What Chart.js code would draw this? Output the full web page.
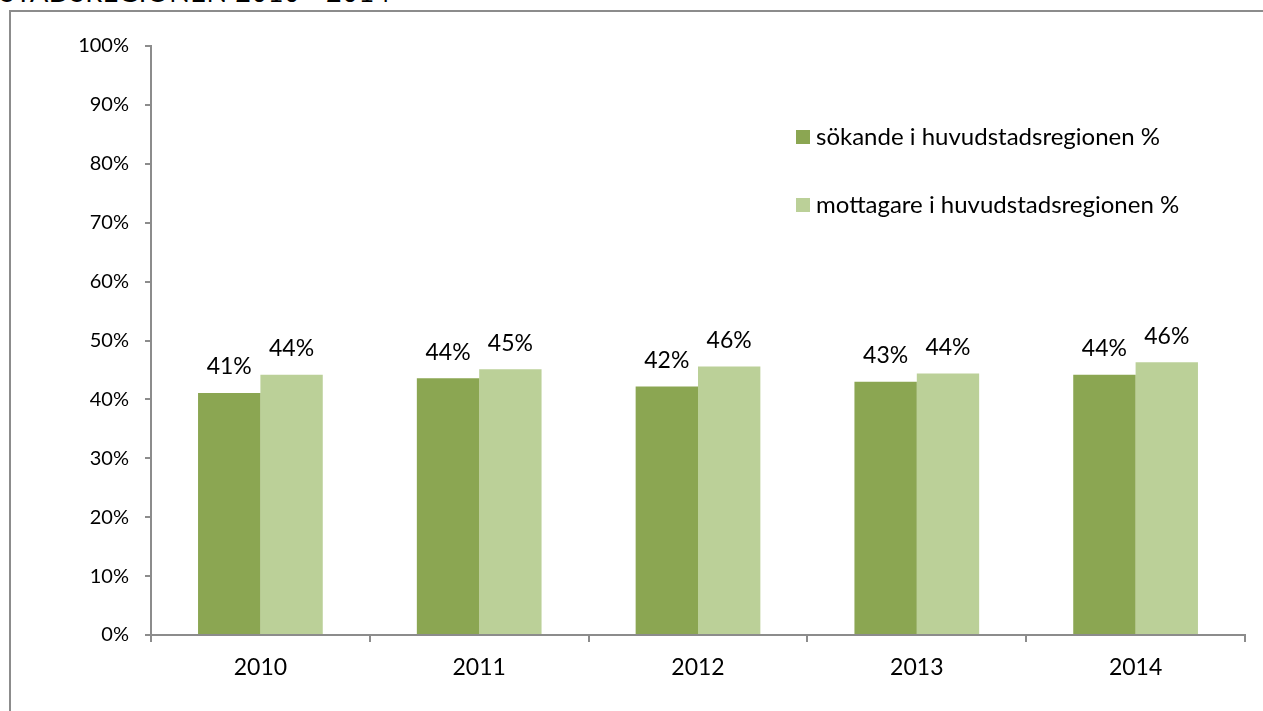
<!DOCTYPE html>
<html>
<head>
<meta charset="utf-8">
<script src="https://cdn.jsdelivr.net/npm/chart.js@4.4.1/dist/chart.umd.min.js"></script>
<style>
  html, body { margin: 0; padding: 0; background: #fff; overflow: hidden; }
  #wrap { position: relative; width: 1263px; height: 711px; overflow: hidden; }
  #frame {
    position: absolute; left: 9px; top: 10px; width: 1400px; height: 800px;
    border-top: 2px solid #8c8c8c; border-left: 2px solid #8c8c8c;
  }
  #title {
    position: absolute; left: 0; top: -22px; white-space: nowrap; line-height: 27px;
    font-family: Lato, sans-serif; font-size: 27px; color: #000; letter-spacing: 0.6px;
  }
  #chart { position: absolute; left: 0; top: 0; }
</style>
</head>
<body>
<div id="wrap">
  <div id="title">STADSREGIONEN 2010 - 2014</div>
  <div id="frame"></div>
  <canvas id="chart" width="1263" height="711"></canvas>
</div>
<script>
/* ---- data ---- */
const YEARS = ['2010', '2011', '2012', '2013', '2014'];
const SOKANDE = [41.1, 43.6, 42.2, 43.0, 44.2];
const MOTTAGARE = [44.2, 45.1, 45.6, 44.4, 46.3];
const SERIES_NAMES = ['sökande i huvudstadsregionen %', 'mottagare i huvudstadsregionen %'];
const Y_TICKS = [0, 10, 20, 30, 40, 50, 60, 70, 80, 90, 100];

const COLORS = {
  dark: '#8ba652',
  light: '#bbd098',
  axis: '#8c8c8c',
  text: '#000'
};
const FONT = 'Lato, sans-serif';

/* value labels above each bar */
const barLabels = {
  id: 'barLabels',
  afterDatasetsDraw(chart) {
    const { ctx } = chart;
    ctx.save();
    ctx.font = '23px ' + FONT;
    ctx.fillStyle = COLORS.text;
    ctx.textAlign = 'center';
    ctx.textBaseline = 'middle';
    chart.data.datasets.forEach((ds, i) => {
      chart.getDatasetMeta(i).data.forEach((bar, idx) => {
        ctx.fillText(Math.round(ds.data[idx]) + '%', bar.x, bar.y - 26);
      });
    });
    ctx.restore();
  }
};

/* legend drawn inside the plot, stacked vertically */
const insideLegend = {
  id: 'insideLegend',
  afterDraw(chart) {
    const { ctx } = chart;
    ctx.save();
    ctx.font = '24px ' + FONT;
    ctx.textBaseline = 'middle';
    chart.data.datasets.forEach((ds, i) => {
      const y = 137 + i * 68;
      ctx.fillStyle = ds.backgroundColor;
      ctx.fillRect(796, y - 7, 14, 14);
      ctx.fillStyle = COLORS.text;
      ctx.fillText(ds.label, 816, y);
    });
    ctx.restore();
  }
};

new Chart(document.getElementById('chart'), {
  type: 'bar',
  data: {
    labels: YEARS,
    datasets: [
      { label: SERIES_NAMES[0], data: SOKANDE, backgroundColor: COLORS.dark },
      { label: SERIES_NAMES[1], data: MOTTAGARE, backgroundColor: COLORS.light }
    ]
  },
  options: {
    responsive: false,
    animation: false,
    layout: { padding: { left: 0, top: 46, right: 18, bottom: 0 } },
    datasets: { bar: { categoryPercentage: 0.57, barPercentage: 1.0 } },
    plugins: {
      legend: { display: false },
      tooltip: { enabled: false }
    },
    scales: {
      x: {
        grid: { display: true, drawOnChartArea: false, drawTicks: true, tickLength: 7, color: COLORS.axis, lineWidth: 2, offset: true },
        border: { display: true, color: COLORS.axis, width: 2 },
        ticks: { color: COLORS.text, font: { family: FONT, size: 23 }, padding: 12 },
        afterFit(scale) { scale.height = 76; }
      },
      y: {
        min: 0,
        max: 100,
        afterBuildTicks(scale) { scale.ticks = Y_TICKS.map(v => ({ value: v })); },
        grid: { display: true, drawOnChartArea: false, drawTicks: true, tickLength: 6, color: COLORS.axis, lineWidth: 2 },
        border: { display: true, color: COLORS.axis, width: 2 },
        ticks: { color: COLORS.text, font: { family: FONT, size: 20 }, padding: 16, callback: v => v + '%' },
        afterFit(scale) { scale.width = 151; }
      }
    }
  },
  plugins: [barLabels, insideLegend]
});
</script>
</body>
</html>
